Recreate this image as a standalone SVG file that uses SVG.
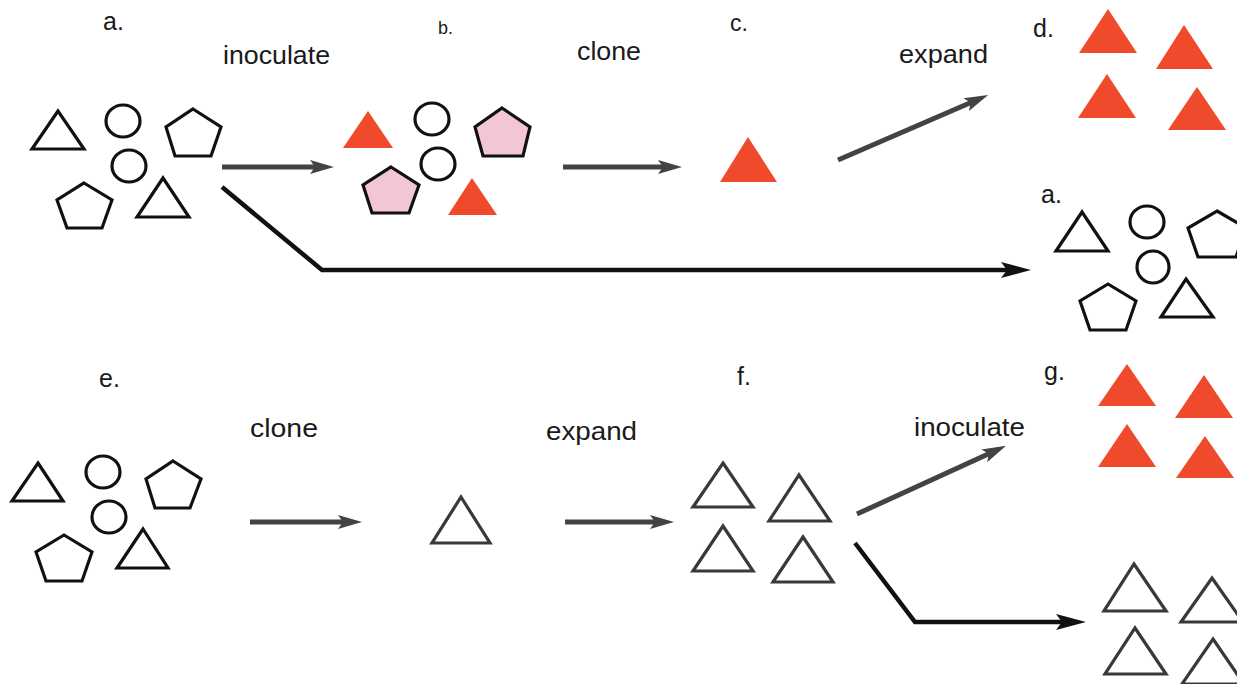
<svg xmlns="http://www.w3.org/2000/svg" width="1237" height="684" viewBox="0 0 1237 684">
<defs>
<style>
.lbl{font-family:"Liberation Sans",Arial,sans-serif;fill:#1a1a1a}
.o{fill:#fff;stroke:#111;stroke-width:3.2;stroke-linejoin:miter}
.og{fill:#fff;stroke:#3d3838;stroke-width:3.2}
.r{fill:#ef4a2c}
.p{fill:#f3c6d6;stroke:#111;stroke-width:3.2}
.ga{fill:none;stroke:#454242;stroke-width:5}
.ba{fill:none;stroke:#111;stroke-width:4.5;stroke-linejoin:miter}
</style>
<marker id="hg" viewBox="0 0 24 16" markerWidth="24" markerHeight="16" refX="14" refY="8" orient="auto" markerUnits="userSpaceOnUse">
<path d="M0,1 L24,8 L0,15 L5,8 Z" fill="#454242"/>
</marker>
<marker id="hb" viewBox="0 0 30 18" markerWidth="30" markerHeight="18" refX="18" refY="9" orient="auto" markerUnits="userSpaceOnUse">
<path d="M0,1 L30,9 L0,17 L6,9 Z" fill="#111"/>
</marker>
</defs>

<g id="labels">
<text class="lbl" x="103" y="30" font-size="25">a.</text>
<text class="lbl" x="223" y="64" font-size="25" textLength="107" lengthAdjust="spacingAndGlyphs">inoculate</text>
<text class="lbl" x="438" y="34" font-size="18">b.</text>
<text class="lbl" x="577" y="60" font-size="25" textLength="64" lengthAdjust="spacingAndGlyphs">clone</text>
<text class="lbl" x="730" y="31" font-size="23">c.</text>
<text class="lbl" x="899" y="63" font-size="25" textLength="89" lengthAdjust="spacingAndGlyphs">expand</text>
<text class="lbl" x="1033" y="37" font-size="25">d.</text>
<text class="lbl" x="1041" y="203" font-size="25">a.</text>
<text class="lbl" x="99" y="387" font-size="25">e.</text>
<text class="lbl" x="250" y="437" font-size="25" textLength="68" lengthAdjust="spacingAndGlyphs">clone</text>
<text class="lbl" x="546" y="440" font-size="25" textLength="91" lengthAdjust="spacingAndGlyphs">expand</text>
<text class="lbl" x="737" y="385" font-size="25">f.</text>
<text class="lbl" x="914" y="436" font-size="25" textLength="111" lengthAdjust="spacingAndGlyphs">inoculate</text>
<text class="lbl" x="1044" y="380" font-size="25">g.</text>
</g>

<g id="node-a">
<polygon class="o" points="58,111 32,149 84,149"/>
<ellipse class="o" cx="123" cy="121" rx="17" ry="16"/>
<ellipse class="o" cx="129" cy="166" rx="17" ry="16"/>
<polygon class="o" points="193,109 221,127 211,156 175,156 166,127"/>
<polygon class="o" points="84,183 112,200 102,228 67,228 57,200"/>
<polygon class="o" points="163,178 189,217 137,217"/>
</g>

<g id="node-b">
<polygon class="r" points="368,111 393,148 343,148"/>
<ellipse class="o" cx="432" cy="119" rx="17" ry="16"/>
<ellipse class="o" cx="438" cy="164" rx="17" ry="16"/>
<polygon class="p" points="502,108 530,127 523,156 483,156 475,127"/>
<polygon class="p" points="391,167 419,185 409,213 372,213 363,185"/>
<polygon class="r" points="472,178 497,215 448,215"/>
</g>

<g id="node-c">
<polygon class="r" points="748,137 777,182 720,182"/>
</g>

<g id="node-d">
<polygon class="r" points="1108,9 1137,53 1079,53"/>
<polygon class="r" points="1184,25 1213,69 1156,69"/>
<polygon class="r" points="1107,74 1136,118 1078,118"/>
<polygon class="r" points="1197,87 1226,130 1168,130"/>
</g>

<g id="node-a2">
<polygon class="o" points="1082,212 1108,251 1056,251"/>
<ellipse class="o" cx="1147" cy="222" rx="17" ry="16"/>
<ellipse class="o" cx="1153" cy="267" rx="16" ry="16"/>
<polygon class="o" points="1217,211 1246,228 1236,257 1198,257 1188,228"/>
<polygon class="o" points="1108,284 1136,301 1126,330 1090,330 1080,301"/>
<polygon class="o" points="1186,279 1213,317 1161,317"/>
</g>

<g id="node-e">
<polygon class="o" points="38,463 63,501 12,501"/>
<ellipse class="o" cx="103" cy="472" rx="17" ry="16"/>
<ellipse class="o" cx="109" cy="517" rx="17" ry="16"/>
<polygon class="o" points="173,461 201,479 190,508 155,508 146,479"/>
<polygon class="o" points="64,535 92,552 82,581 46,581 36,552"/>
<polygon class="o" points="143,529 168,568 117,568"/>
</g>

<g id="node-clone">
<polygon class="og" points="461,497 490,543 432,543"/>
</g>

<g id="node-f">
<polygon class="og" points="723,463 753,507 693,507"/>
<polygon class="og" points="799,475 830,521 769,521"/>
<polygon class="og" points="723,526 753,571 693,571"/>
<polygon class="og" points="803,537 833,582 773,582"/>
</g>

<g id="node-g">
<polygon class="r" points="1127,364 1156,406 1098,406"/>
<polygon class="r" points="1204,375 1233,418 1175,418"/>
<polygon class="r" points="1127,424 1156,467 1098,467"/>
<polygon class="r" points="1205,436 1234,478 1176,478"/>
</g>

<g id="node-g2">
<polygon class="og" points="1134,564 1166,611 1104,611"/>
<polygon class="og" points="1212,578 1243,622 1181,622"/>
<polygon class="og" points="1135,628 1166,674 1105,674"/>
<polygon class="og" points="1213,639 1244,684 1182,684"/>
</g>

<g id="connectors">
<path class="ga" d="M222,167 L324,167" marker-end="url(#hg)"/>
<path class="ga" d="M563,167 L672,167" marker-end="url(#hg)"/>
<path class="ga" d="M838,160 L979,99" marker-end="url(#hg)"/>
<path class="ba" d="M222,187 L322,270 L1019,270" marker-end="url(#hb)"/>
<path class="ga" d="M250,522 L352,522" marker-end="url(#hg)"/>
<path class="ga" d="M565,522 L664,522" marker-end="url(#hg)"/>
<path class="ga" d="M857,514 L997,450" marker-end="url(#hg)"/>
<path class="ba" d="M855,543 L915,622 L1074,622" marker-end="url(#hb)"/>
</g>
</svg>
